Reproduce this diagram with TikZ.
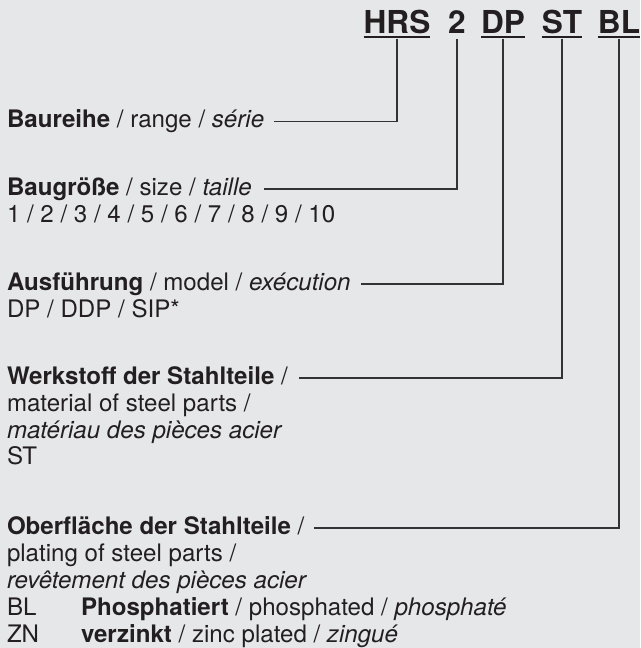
\documentclass[tikz,border=0pt]{standalone}
\usepackage{fontspec}
\setmainfont{TeX Gyre Heros}
\usetikzlibrary{calc}
\definecolor{bg}{HTML}{E6E7E9}
\definecolor{ink}{HTML}{231F20}
\definecolor{linec}{HTML}{333333}
\newcommand\bodyfnt{\fontsize{24.1}{26.7}\selectfont}
\newcommand\hdrfnt{\fontsize{31.6}{34}\selectfont\bfseries}
\tikzset{
  txt/.style={anchor=base west, inner sep=0pt, outer sep=0pt, font=\bodyfnt, text=ink},
  hdr/.style={anchor=base, inner sep=0pt, outer sep=0pt, font=\hdrfnt, text=ink},
  lead/.style={draw=linec, line width=1.1pt},
  uline/.style={draw=ink, line width=1.3pt},
}
\begin{document}
\begin{tikzpicture}[x=1pt, y=-1pt]
\fill[bg] (0,0) rectangle (640,648);
\useasboundingbox (0,0) rectangle (640,648);
% header
\node[hdr] (h1) at (397,33) {HRS};
\node[hdr] (h2) at (457,33) {2};
\node[hdr] (h3) at (503,33) {DP};
\node[hdr] (h4) at (562,33) {ST};
\node[hdr] (h5) at (619,33) {BL};
\foreach \h in {h1,h3,h4,h5}{
  \draw[uline] ($(\h.base west)+(0,4)$) -- ($(\h.base east)+(0,4)$);
}
% body
\node[txt] (b1) at (7,127.5) {\textbf{Baureihe} / range / \textit{série}};
\node[txt] (b2) at (7,195.5) {\textbf{Baugröße} / size / \textit{taille}};
\node[txt] (b2b) at (7,222) {1 / 2 / 3 / 4 / 5 / 6 / 7 / 8 / 9 / 10};
\node[txt] (b3) at (7,290.5) {\textbf{Ausführung} / model / \textit{exécution}};
\node[txt] (b3b) at (7,317) {DP / DDP / SIP*};
\node[txt] (b4) at (7,384.5) {\textbf{Werkstoff der Stahlteile} /};
\node[txt] (b4b) at (7,411) {material of steel parts /};
\node[txt] (b4c) at (7,438) {\textit{matériau des pièces acier}};
\node[txt] (b4d) at (7,464.5) {ST};
\node[txt] (b5) at (7,534.5) {\textbf{Oberfläche der Stahlteile} /};
\node[txt] (b5b) at (7,561.5) {plating of steel parts /};
\node[txt] (b5c) at (7,588.5) {\textit{revêtement des pièces acier}};
\node[txt] (b5d) at (7,615.5) {BL};
\node[txt] (b5dd) at (81,615.5) {\textbf{Phosphatiert} / phosphated / \textit{phosphaté}};
\node[txt] (b5e) at (7,642) {ZN};
\node[txt] (b5ee) at (81,642) {\textbf{verzinkt} / zinc plated / \textit{zingué}};
% leaders
\draw[lead] ($(h1.base)+(0,5.5)$) |- ($(b1.base east)+(10,-6)$);
\draw[lead] ($(h2.base)+(0,5.5)$) |- ($(b2.base east)+(12,-6.5)$);
\draw[lead] ($(h3.base)+(0,5.5)$) |- ($(b3.base east)+(10,-6.5)$);
\draw[lead] ($(h4.base)+(0,5.5)$) |- ($(b4.base east)+(11,-6.5)$);
\draw[lead] ($(h5.base)+(0,5.5)$) |- ($(b5.base east)+(10,-6.5)$);
\end{tikzpicture}
\end{document}
